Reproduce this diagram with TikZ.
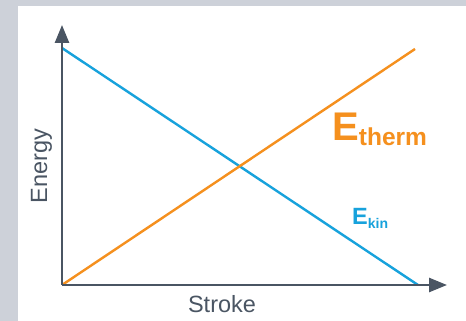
\documentclass[tikz,border=0pt]{standalone}
\usepackage{fontspec}
\setmainfont{Liberation Sans}
\usetikzlibrary{arrows.meta}
\definecolor{framegray}{HTML}{CDD1D9}
\definecolor{axisgray}{HTML}{4A5563}
\definecolor{eorange}{HTML}{F5901E}
\definecolor{eblue}{HTML}{17A2DC}
\tikzset{
  axisline/.style={draw=axisgray, line width=2.6pt, -{Triangle[length=18pt,width=14pt]}},
  curveline/.style={line width=2.4pt},
  axislabel/.style={text=axisgray, inner sep=0pt, font=\fontsize{23.5}{24}\selectfont},
}
\begin{document}
\begin{tikzpicture}[x=1pt,y=1pt]
\useasboundingbox (0,0) rectangle (466,321);
\fill[framegray] (0,0) rectangle (466,321);
\fill[white] (18,0) rectangle (466,315);
\coordinate (O) at (62,36);
\coordinate (ytip) at (62,296);
\coordinate (xtip) at (447,36);
\coordinate (bstart) at (62,273);
\coordinate (bend) at (418,36);
\coordinate (oend) at (415,272);
\draw[curveline, eblue] (bstart) -- (bend);
\draw[curveline, eorange] (O) -- (oend);
\draw[axisline] (O) -- (ytip);
\draw[axisline] (O) -- (xtip);
\node[axislabel, anchor=base] (xl) at (222,8) {Stroke};
\node[axislabel, anchor=base, rotate=90] (yl) at (47,155) {Energy};
\node[inner sep=0pt, anchor=base west, text=eorange] (etherm) at (332,180)
  {\fontsize{40}{40}\selectfont\bfseries E\raisebox{-5pt}{\fontsize{24.5}{25}\selectfont therm}};
\node[inner sep=0pt, anchor=base west, text=eblue] (ekin) at (352,96)
  {\fontsize{23.5}{24}\selectfont\bfseries E\raisebox{-4pt}{\fontsize{14}{14}\selectfont kin}};
\end{tikzpicture}
\end{document}
